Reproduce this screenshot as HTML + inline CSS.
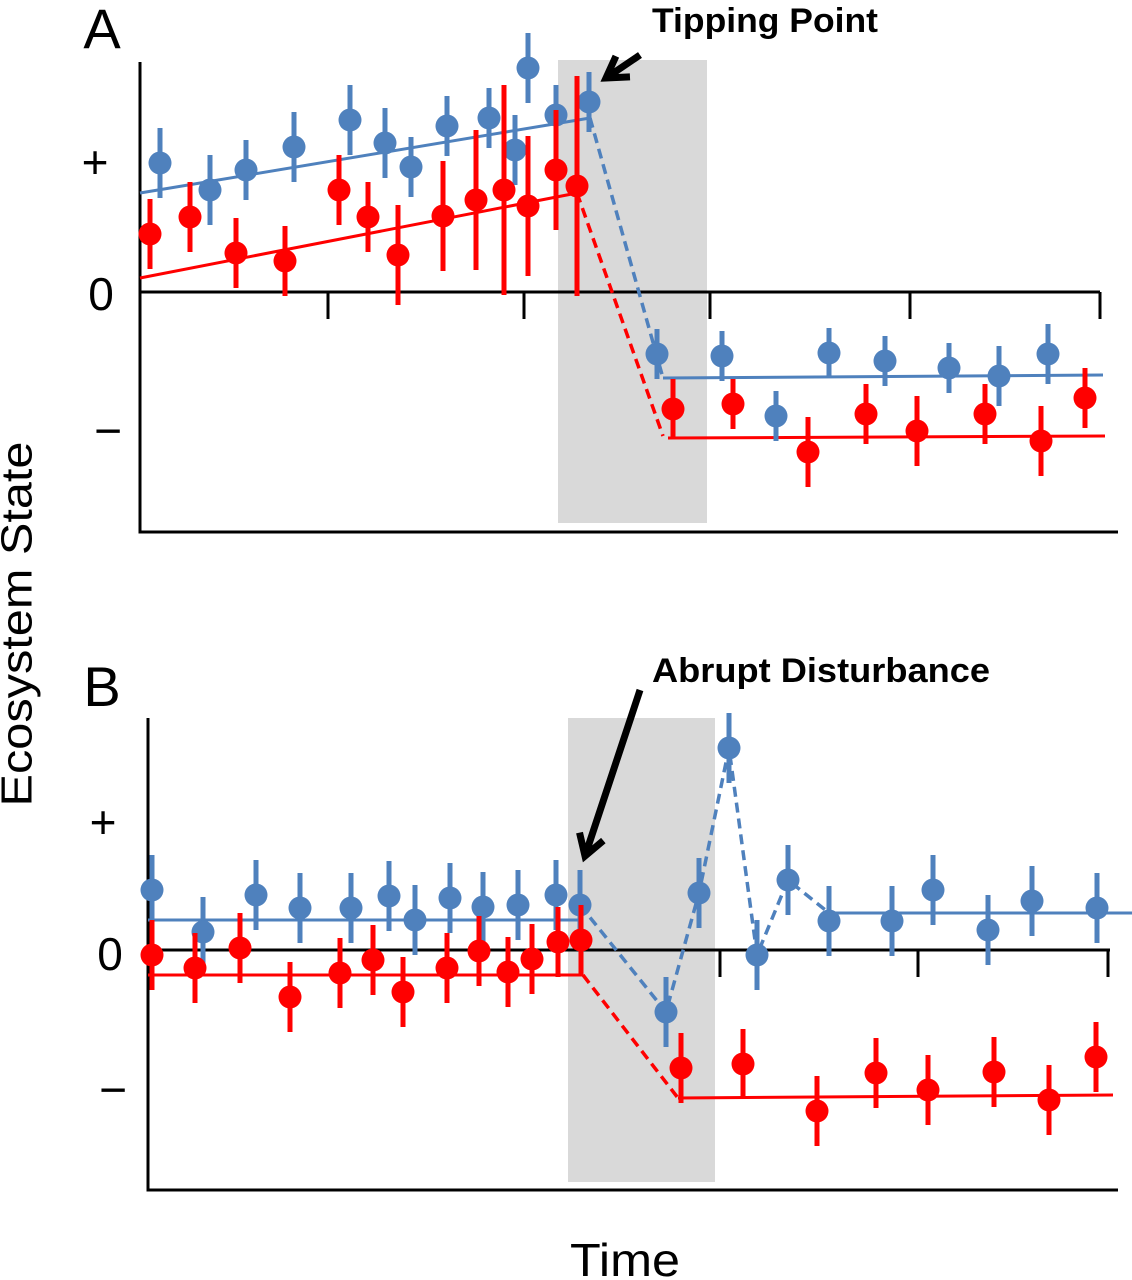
<!DOCTYPE html>
<html><head><meta charset="utf-8"><style>
html,body{margin:0;padding:0;background:#fff}
svg{display:block;font-family:"Liberation Sans",sans-serif}
</style></head><body>
<svg id="fig" width="1132" height="1280" viewBox="0 0 1132 1280">
<text x="20" y="624" transform="rotate(-90 20 624)" text-anchor="middle" dominant-baseline="middle" font-size="44" textLength="365" lengthAdjust="spacingAndGlyphs">Ecosystem State</text>
<text x="625" y="1276" text-anchor="middle" font-size="46" textLength="110" lengthAdjust="spacingAndGlyphs">Time</text>
</svg>
<script>
// Panel A data (time units, state units)
const aBlueT=[2,7,10.6,15.4,21,24.5,27.1,30.7,34.9,37.5,38.8,41.6,44.9,51.7,58.2,63.6,68.9,74.5,80.9,85.9,90.8];
const aBlueV=[12.9,10.2,12.2,14.5,17.2,14.9,12.5,16.6,17.4,14.2,22.4,17.7,19.0,-6.2,-6.4,-12.4,-6.1,-6.9,-7.6,-8.4,-6.2];
const aBlueE=[3.5,3.5,3,3.5,3.5,3.5,3,3,3,3.5,3.5,3,3,2.5,2.5,2.5,2.5,2.5,2.5,3,3];
const aRedT=[1,5,9.6,14.5,19.9,22.8,25.8,30.3,33.6,36.4,38.8,41.6,43.7,53.3,59.3,66.8,72.6,77.7,84.5,90.1,94.5];
const aRedV=[5.8,7.5,3.9,3.1,10.2,7.5,3.7,7.6,9.2,10.2,8.6,12.2,10.6,-11.7,-11.2,-16,-12.2,-13.9,-12.2,-14.9,-10.6];
const aRedE=[3.5,3.5,3.5,3.5,3.5,3.5,5,5.5,7,10.5,7,6,11,3,2.5,3.5,3,3.5,3,3.5,3];
const aBlueTrendT=[0,45], aBlueTrendV=[9.9,17.4];
const aBlueDashT=[45,52.3], aBlueDashV=[17.4,-8.6];
const aBlueTrend2T=[52.3,96.3], aBlueTrend2V=[-8.6,-8.3];
const aRedTrendT=[0,43.7], aRedTrendV=[1.4,9.9];
const aRedDashT=[43.7,52.3], aRedDashV=[9.9,-14.4];
const aRedTrend2T=[52.8,96.5], aRedTrend2V=[-14.6,-14.4];
// Panel B data
const bBlueT=[0.4,5.5,10.8,15.2,20.3,24.1,26.7,30.2,33.5,37,40.8,43.2,51.8,55.1,58.1,60.9,64,68.1,74.4,78.5,84,88.4,94.9];
const bBlueV=[6,1.8,5.5,4.2,4.2,5.4,3,5.2,4.3,4.5,5.5,4.5,-6.2,5.7,20.2,-0.5,7,2.9,2.9,6,2,4.9,4.2];
const bRedT=[0.4,4.7,9.2,14.2,19.2,22.5,25.5,29.9,33.1,36,38.4,41,43.3,53.3,59.5,66.9,72.8,78,84.6,90.1,94.8];
const bRedV=[-0.5,-1.8,0.2,-4.7,-2.3,-1,-4.2,-1.8,-0.1,-2.2,-0.9,0.8,1,-11.8,-11.4,-16.1,-12.3,-14,-12.2,-15,-10.7];
const bErr=3.5;
const bBlueTrendT=[0,43.2], bBlueTrendV=[3,3];
const bBlueDashT=[43.2,51.8,55.1,58.1,60.9,64,68.1], bBlueDashV=[4.5,-6.2,5.7,20.2,-0.5,7,3.7];
const bBlueTrend2T=[68.1,98.4], bBlueTrend2V=[3.7,3.7];
const bRedTrendT=[0,43.5], bRedTrendV=[-2.5,-2.5];
const bRedDashT=[43.5,53], bRedDashV=[-2.5,-14.8];
const bRedTrend2T=[53,96.5], bRedTrend2V=[-14.8,-14.5];

const BLUE='#4f81bd', RED='#ff0000';
const svg=document.getElementById('fig');
const NS='http://www.w3.org/2000/svg';
function mk(tag,attrs,parent){const e=document.createElementNS(NS,tag);for(const k in attrs)e.setAttribute(k,attrs[k]);(parent||svg).appendChild(e);return e;}

function panel(p){
  const g=mk('g',{});
  
  
  const xs=t=>p.x0+t*10, ys=v=>p.y0-v*10;
  const r=mk('rect',{x:p.gray[0],y:p.gray[1],width:p.gray[2],height:p.gray[3],fill:'#d9d9d9'},g);
  
  
  const ax=mk('path',{d:`M${p.x0} ${p.axTop} V${p.axBot} H${p.axRight}`,stroke:'#000','stroke-width':3,fill:'none'},g);
  
  
  let d=`M${p.x0} ${p.y0} H${p.zeroRight}`;
  p.ticks.forEach(x=>{d+=` M${x} ${p.y0} v${p.tickLen}`;});
  const z=mk('path',{d:d,stroke:'#000','stroke-width':3,fill:'none'},g);
  
  
  function line(T,V,col,dash,name){
    const pts=T.map((t,i)=>xs(t)+','+ys(V[i])).join(' ');
    const l=mk('polyline',{points:pts,stroke:col,'stroke-width':dash?3.5:3,fill:'none'},g);
    if(dash)l.setAttribute('stroke-dasharray','10 6');
    
    
  }
  p.lines.forEach(L=>line(L[0],L[1],L[2],L[3],L[4]));
  function series(T,V,E,col,name){
    T.forEach((t,i)=>{
      const e=Array.isArray(E)?E[i]:E;
      const b=mk('line',{x1:xs(t),x2:xs(t),y1:ys(V[i]+e),y2:ys(V[i]-e),stroke:col,'stroke-width':5},g);
      
      
      const c=mk('circle',{cx:xs(t),cy:ys(V[i]),r:11.5,fill:col},g);
      
      
    });
  }
  series(p.blue[0],p.blue[1],p.blue[2],BLUE,'blue');
  series(p.red[0],p.red[1],p.red[2],RED,'red');
  p.labels.forEach(L=>{
    const t=mk('text',{x:L[0],y:L[1],'font-size':L[3],'text-anchor':'middle'},g);
    t.textContent=L[2];
    
    
  });
  const ann=mk('text',{x:p.ann[0],y:p.ann[1],'font-size':34,'font-weight':'bold',textLength:p.ann[3],lengthAdjust:'spacingAndGlyphs'},g);
  ann.textContent=p.ann[2];
  
  
  const a=p.arrow;
  const ang=Math.atan2(a[3]-a[1],a[2]-a[0]);
  const ar=mk('path',{d:`M${a[0]} ${a[1]} L${a[2]} ${a[3]} M${a[2]-24*Math.cos(ang-0.55)} ${a[3]-24*Math.sin(ang-0.55)} L${a[2]} ${a[3]} L${a[2]-24*Math.cos(ang+0.55)} ${a[3]-24*Math.sin(ang+0.55)}`,stroke:'#000','stroke-width':7,fill:'none'},g);
  
  
}

panel({name:'panel-a',x0:140,y0:292,axTop:62,axBot:532,axRight:1118,zeroRight:1100,ticks:[328,524,710,910,1100],tickLen:27,
  gray:[558,60,149,463],
  lines:[[aBlueTrendT,aBlueTrendV,BLUE,false,'blue-trend-before'],[aBlueDashT,aBlueDashV,BLUE,true,'blue-transition'],[aBlueTrend2T,aBlueTrend2V,BLUE,false,'blue-trend-after'],
         [aRedTrendT,aRedTrendV,RED,false,'red-trend-before'],[aRedDashT,aRedDashV,RED,true,'red-transition'],[aRedTrend2T,aRedTrend2V,RED,false,'red-trend-after']],
  blue:[aBlueT,aBlueV,aBlueE],red:[aRedT,aRedV,aRedE],
  labels:[[102,48,'A',56,'panel-label-a'],[95,178,'+',46,'y-label-plus'],[101,310,'0',46,'y-label-zero'],[108,447,'−',48,'y-label-minus']],
  ann:[652,32,'Tipping Point',226],arrow:[640,55,606,78]});

panel({name:'panel-b',x0:148,y0:950,axTop:718,axBot:1190,axRight:1118,zeroRight:1110,ticks:[720,918,1108],tickLen:27,
  gray:[568,718,147,464],
  lines:[[bBlueTrendT,bBlueTrendV,BLUE,false,'blue-trend-before'],[bBlueDashT,bBlueDashV,BLUE,true,'blue-transition'],[bBlueTrend2T,bBlueTrend2V,BLUE,false,'blue-trend-after'],
         [bRedTrendT,bRedTrendV,RED,false,'red-trend-before'],[bRedDashT,bRedDashV,RED,true,'red-transition'],[bRedTrend2T,bRedTrend2V,RED,false,'red-trend-after']],
  blue:[bBlueT,bBlueV,bErr],red:[bRedT,bRedV,bErr],
  labels:[[102,706,'B',56,'panel-label-b'],[103,838,'+',46,'y-label-plus'],[110,970,'0',46,'y-label-zero'],[113,1106,'−',48,'y-label-minus']],
  ann:[652,682,'Abrupt Disturbance',338],arrow:[640,690,585,856]});
</script>
</body></html>
